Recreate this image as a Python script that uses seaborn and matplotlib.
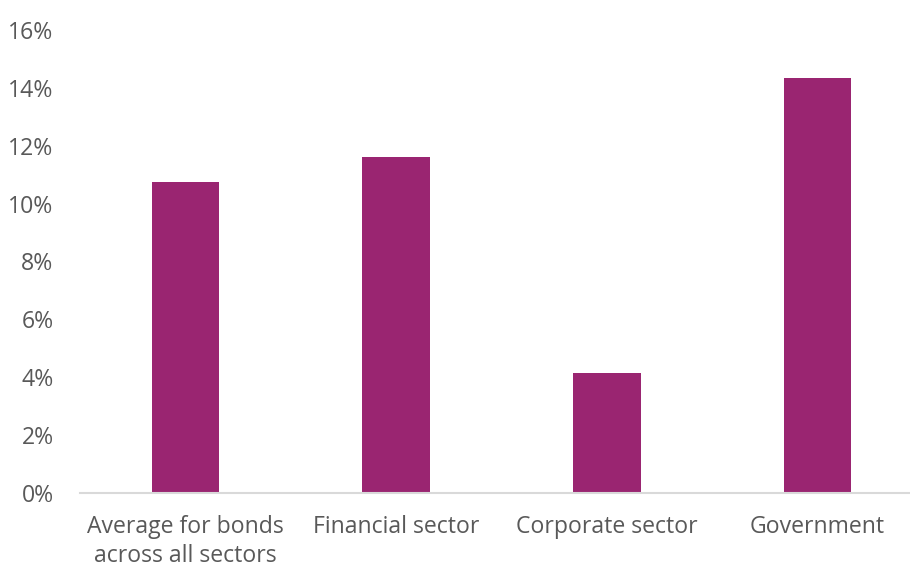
import matplotlib
matplotlib.use("Agg")
import matplotlib.pyplot as plt
import seaborn as sns
import pandas as pd
from matplotlib.ticker import FuncFormatter

categories = ["Average for bonds\nacross all sectors", "Financial sector", "Corporate sector", "Government"]
values = [10.75, 11.6, 4.15, 14.35]
yticks = [0, 2, 4, 6, 8, 10, 12, 14, 16]

df = pd.DataFrame({"category": categories, "value": values})

sns.set_theme(style="white")
plt.rcParams["font.family"] = ["Open Sans", "DejaVu Sans"]

fig = plt.figure(figsize=(9.1, 5.7), dpi=100)
ax = fig.add_axes([80 / 910, 77 / 570, 843 / 910, 463 / 570])

sns.barplot(data=df, x="category", y="value", color="#9A2571", saturation=1,
            width=0.32, linewidth=0, ax=ax)

ax.set_ylim(0, 16)
ax.set_xlim(-0.5, 3.5)
ax.set_yticks(yticks)
ax.yaxis.set_major_formatter(FuncFormatter(lambda v, p: f"{v:.0f}%"))
ax.set_xlabel("")
ax.set_ylabel("")
for s in ["top", "right", "left"]:
    ax.spines[s].set_visible(False)
ax.spines["bottom"].set_color("#D9D9D9")
ax.spines["bottom"].set_linewidth(1.5)
ax.tick_params(axis="both", length=0, labelsize=16.6, colors="#595959")
ax.tick_params(axis="y", pad=19)
ax.tick_params(axis="x", pad=16)
for lbl in ax.get_xticklabels():
    lbl.set_linespacing(1.28)

fig.savefig("out.png", dpi=100)
